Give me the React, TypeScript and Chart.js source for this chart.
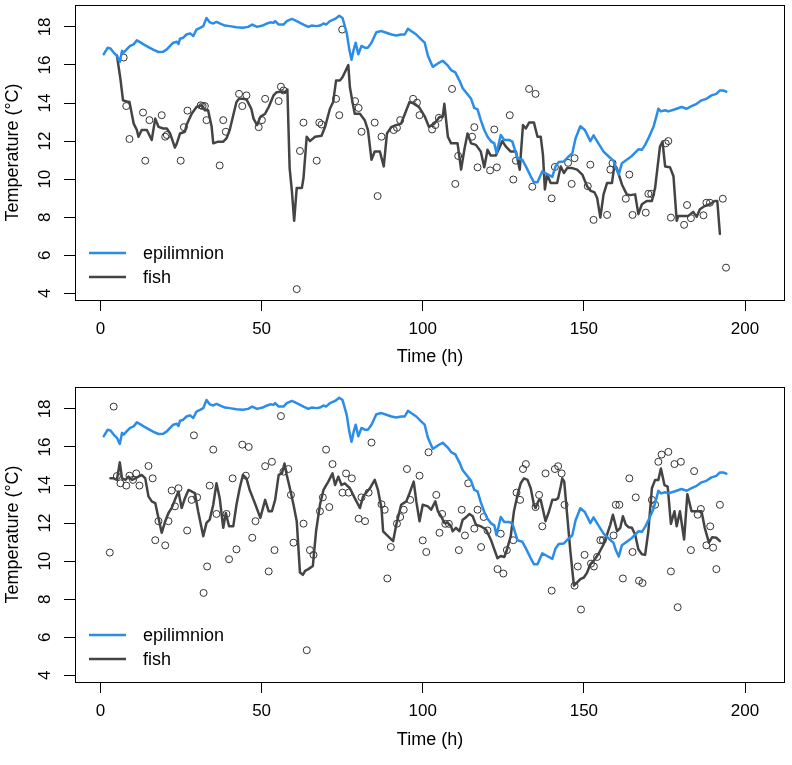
import React, { useEffect, useRef } from "react";
import { Chart, registerables } from "chart.js";

Chart.register(...registerables);

const FONT = "'Liberation Sans', Arial, Helvetica, sans-serif";
const EPI_COLOR = "#2A8DEA";
const FISH_COLOR = "#444444";
const OBS_COLOR = "#333333";

const xTicks = [0, 50, 100, 150, 200];
const yTicks = [4, 6, 8, 10, 12, 14, 16, 18];
const xTitle = "Time (h)";
const yTitle = "Temperature (°C)";
const legendLabels = ["epilimnion", "fish"];

// Epilimnion temperature (same in both panels)
const epiTime = [1.0, 2.2, 3.1, 4.1, 5.1, 6.0, 6.7, 7.2, 8.2, 9.2, 10.3, 11.3, 12.3, 13.4, 14.9, 16.5, 18.0, 19.5, 20.6, 21.6, 22.6, 23.7, 24.2, 24.7, 25.7, 26.7, 27.8, 28.8, 29.8, 30.9, 31.9, 32.9, 33.9, 35.0, 36.0, 37.0, 38.6, 40.1, 42.2, 44.2, 45.8, 47.1, 48.6, 50.6, 51.7, 52.7, 53.7, 54.2, 55.3, 56.8, 57.8, 59.4, 60.9, 63.0, 64.5, 65.5, 67.1, 68.1, 69.2, 70.0, 71.2, 72.8, 74.1, 75.1, 76.4, 77.2, 77.9, 78.6, 79.2, 80.0, 81.0, 82.0, 83.0, 84.1, 85.6, 87.2, 88.7, 90.3, 91.8, 93.3, 94.4, 95.4, 96.4, 98.0, 99.5, 100.6, 101.6, 103.1, 104.7, 106.2, 107.8, 108.8, 110.1, 111.4, 112.4, 113.4, 115.0, 116.0, 117.0, 118.0, 119.1, 120.1, 121.1, 122.2, 122.9, 124.2, 125.3, 126.8, 127.8, 129.4, 130.9, 132.0, 133.5, 134.5, 135.6, 137.1, 138.6, 140.2, 141.2, 142.2, 143.8, 145.3, 146.4, 147.4, 148.9, 150.3, 152.0, 153.0, 154.6, 156.1, 157.7, 159.2, 159.9, 160.8, 161.8, 163.3, 164.9, 166.9, 168.0, 169.0, 170.0, 171.6, 172.6, 173.1, 173.9, 175.2, 176.2, 178.3, 180.3, 181.9, 183.4, 185.0, 186.5, 188.0, 189.6, 191.1, 192.2, 193.2, 194.2];
const epiTemp = [16.56, 16.9, 16.86, 16.65, 16.48, 16.16, 16.74, 16.65, 16.83, 17.0, 17.08, 17.29, 17.2, 17.08, 16.94, 16.79, 16.68, 16.7, 16.82, 17.0, 17.17, 17.22, 17.1, 17.38, 17.43, 17.6, 17.66, 17.52, 17.86, 17.95, 18.04, 18.47, 18.24, 18.18, 18.26, 18.18, 18.07, 18.04, 17.98, 17.95, 18.0, 18.12, 18.0, 18.09, 18.18, 18.24, 18.21, 18.3, 18.12, 18.12, 18.3, 18.42, 18.3, 18.12, 18.0, 18.07, 18.04, 18.07, 18.18, 18.12, 18.3, 18.42, 18.59, 18.47, 17.69, 16.82, 16.27, 16.82, 17.17, 16.56, 17.0, 16.91, 16.91, 17.17, 17.72, 17.78, 17.69, 17.6, 17.55, 17.6, 17.6, 17.9, 17.78, 17.6, 17.34, 17.17, 16.48, 15.9, 16.08, 16.22, 15.96, 15.73, 15.61, 15.18, 14.78, 14.57, 14.22, 13.74, 13.67, 13.1, 12.58, 12.23, 12.0, 11.88, 11.36, 12.32, 12.06, 12.06, 11.97, 11.1, 11.02, 10.67, 10.15, 9.84, 9.84, 10.41, 10.27, 10.12, 10.67, 10.9, 10.93, 11.19, 11.36, 12.14, 12.78, 12.58, 12.0, 12.3, 11.85, 11.45, 11.19, 10.96, 10.58, 10.24, 10.84, 11.02, 11.22, 11.57, 11.54, 11.8, 12.14, 12.75, 13.36, 13.7, 13.56, 13.62, 13.56, 13.67, 13.79, 13.7, 13.84, 13.96, 14.14, 14.22, 14.4, 14.48, 14.66, 14.66, 14.6];

// Top panel: fish temperature line
const fishTopTime = [5.1, 6.2, 7.0, 8.2, 9.0, 10.3, 11.3, 11.8, 12.8, 14.4, 15.9, 17.0, 18.0, 19.5, 20.6, 21.6, 23.1, 23.7, 24.7, 26.2, 26.7, 28.3, 29.8, 31.4, 32.4, 33.4, 34.5, 35.0, 36.5, 38.1, 39.1, 40.1, 41.2, 42.2, 43.0, 44.2, 45.3, 46.8, 47.5, 48.6, 49.6, 51.1, 52.2, 53.7, 54.7, 56.3, 57.3, 58.0, 58.7, 59.4, 60.1, 60.9, 62.5, 63.0, 64.0, 65.0, 66.6, 68.6, 69.7, 71.2, 72.2, 73.1, 74.3, 75.1, 76.9, 77.4, 78.2, 78.9, 80.5, 82.0, 83.0, 84.1, 85.1, 86.7, 87.9, 88.9, 90.3, 91.8, 93.3, 94.9, 95.9, 97.5, 99.0, 100.6, 101.9, 103.6, 105.2, 106.2, 106.7, 107.8, 108.8, 110.8, 111.9, 112.9, 113.9, 115.0, 116.5, 118.0, 119.1, 120.1, 121.1, 122.7, 123.7, 124.7, 125.8, 127.3, 128.9, 130.1, 131.1, 132.0, 133.0, 134.5, 135.6, 136.6, 137.3, 137.9, 138.6, 139.7, 141.7, 142.8, 143.8, 144.8, 146.4, 147.9, 149.5, 151.0, 152.0, 153.3, 154.1, 155.1, 156.1, 157.2, 158.7, 159.5, 160.2, 161.8, 163.3, 164.4, 165.9, 166.9, 168.0, 169.5, 171.1, 172.1, 173.6, 174.4, 175.2, 176.7, 177.8, 178.8, 179.3, 182.4, 183.9, 185.0, 186.0, 187.5, 189.1, 190.6, 191.4, 192.2];
const fishTopTemp = [16.5, 15.26, 14.14, 14.08, 14.05, 12.92, 12.58, 12.23, 12.58, 12.58, 12.06, 13.18, 12.75, 12.66, 12.66, 12.4, 11.66, 11.88, 12.4, 12.49, 12.84, 13.44, 13.79, 13.88, 13.62, 13.62, 12.75, 11.88, 11.97, 11.97, 12.14, 12.58, 13.36, 14.05, 14.22, 14.22, 14.19, 13.7, 13.18, 12.84, 13.27, 13.44, 13.79, 14.4, 14.57, 14.6, 14.57, 14.71, 10.58, 9.37, 7.81, 9.54, 9.54, 10.06, 12.23, 12.0, 12.23, 12.28, 12.75, 13.7, 14.05, 15.18, 15.18, 15.35, 15.99, 14.83, 14.05, 13.44, 13.44, 13.1, 12.58, 11.02, 11.45, 11.45, 10.67, 12.4, 12.75, 12.84, 12.92, 13.62, 14.05, 13.96, 13.75, 13.3, 12.75, 12.92, 13.27, 13.27, 13.96, 12.23, 11.88, 11.88, 10.5, 11.54, 12.4, 11.88, 11.8, 11.45, 10.62, 11.54, 11.24, 11.24, 11.62, 12.0, 11.71, 11.45, 11.45, 10.5, 12.84, 12.66, 12.97, 12.97, 12.23, 12.23, 11.28, 9.46, 10.24, 9.8, 9.8, 10.67, 10.32, 10.58, 10.58, 10.5, 10.24, 9.63, 9.4, 9.3, 9.02, 7.98, 9.2, 9.8, 9.8, 10.76, 10.58, 9.72, 9.2, 9.16, 9.2, 8.16, 8.68, 8.85, 8.85, 9.54, 11.71, 11.97, 10.67, 10.63, 10.15, 7.81, 8.07, 8.07, 8.28, 8.02, 8.42, 8.59, 8.68, 8.85, 8.85, 7.12];

// Top panel: observed fish temperatures (open circles)
const obsTopTime = [7.2, 8.0, 9.0, 13.2, 13.9, 15.2, 19.0, 20.1, 20.6, 24.9, 25.9, 27.0, 31.1, 31.7, 32.4, 32.9, 37.0, 38.1, 38.9, 43.0, 44.0, 45.3, 49.1, 50.1, 51.1, 55.3, 56.0, 56.8, 60.9, 61.9, 63.0, 67.1, 67.9, 68.6, 73.1, 74.1, 75.0, 79.0, 80.1, 81.0, 85.1, 86.0, 87.2, 91.0, 92.0, 93.0, 97.0, 98.2, 99.0, 102.9, 103.9, 105.0, 109.1, 110.1, 111.0, 115.3, 116.0, 117.0, 120.9, 122.2, 123.0, 127.0, 128.1, 128.9, 133.0, 134.0, 135.0, 140.0, 141.0, 145.1, 146.2, 147.1, 151.2, 152.0, 153.0, 157.2, 158.2, 158.9, 163.0, 164.1, 165.1, 169.2, 170.0, 170.9, 175.4, 176.2, 177.0, 181.1, 182.0, 183.2, 187.1, 188.0, 189.1, 193.1, 194.1];
const obsTopTemp = [16.39, 13.84, 12.11, 13.5, 10.97, 13.1, 13.36, 12.23, 12.32, 10.97, 12.73, 13.6, 13.88, 13.84, 13.84, 13.1, 10.72, 13.1, 12.49, 14.48, 13.84, 14.4, 12.73, 13.1, 14.22, 14.1, 14.86, 14.66, 4.22, 11.48, 12.97, 10.97, 12.97, 12.87, 14.22, 13.36, 17.86, 14.1, 13.74, 12.49, 12.97, 9.11, 12.23, 12.58, 12.7, 13.1, 14.22, 14.02, 13.36, 12.61, 12.84, 13.22, 14.74, 9.75, 11.22, 12.23, 12.73, 10.62, 10.46, 12.61, 10.62, 13.36, 9.98, 10.97, 14.74, 9.6, 14.48, 8.99, 10.64, 10.86, 9.75, 11.1, 9.63, 10.76, 7.86, 8.12, 10.5, 10.84, 8.97, 10.24, 8.12, 8.24, 9.23, 9.23, 11.88, 12.0, 7.98, 7.6, 8.64, 7.95, 8.1, 8.76, 8.76, 8.97, 5.35];

// Bottom panel: fish temperature line
const fishBotTime = [3.1, 4.1, 5.1, 6.0, 6.7, 7.7, 8.7, 9.8, 10.8, 11.8, 12.8, 13.9, 14.9, 15.9, 17.0, 18.0, 19.0, 20.1, 21.1, 22.1, 23.1, 24.2, 25.2, 26.2, 27.3, 28.3, 29.3, 30.3, 31.9, 32.9, 33.9, 35.0, 36.0, 37.0, 38.1, 38.9, 39.9, 41.2, 42.2, 43.2, 44.2, 45.3, 46.3, 47.3, 48.1, 49.6, 51.1, 52.2, 53.2, 54.2, 55.3, 56.3, 57.1, 57.8, 58.9, 59.9, 60.9, 61.9, 62.8, 63.5, 64.5, 65.9, 66.9, 68.1, 69.2, 70.7, 72.0, 72.8, 73.8, 74.8, 75.8, 77.4, 78.9, 80.5, 81.5, 83.6, 85.1, 86.1, 87.2, 87.7, 89.2, 90.8, 91.8, 93.3, 94.9, 95.9, 97.2, 98.0, 99.0, 100.0, 101.6, 102.6, 103.9, 104.7, 105.7, 106.7, 107.8, 108.8, 109.3, 110.3, 111.4, 112.4, 113.4, 114.5, 115.5, 116.5, 118.0, 119.6, 121.1, 122.2, 123.2, 124.2, 125.3, 126.0, 127.3, 128.3, 129.4, 130.4, 131.4, 132.5, 133.5, 134.5, 135.0, 135.6, 136.1, 136.6, 137.3, 138.1, 139.2, 140.2, 141.2, 142.0, 142.8, 143.3, 143.9, 144.8, 145.8, 146.9, 147.9, 148.9, 150.0, 151.0, 152.0, 153.0, 154.6, 156.1, 157.2, 158.2, 159.0, 160.3, 161.3, 162.1, 163.0, 163.9, 164.9, 165.9, 166.9, 168.0, 169.0, 170.0, 171.1, 172.1, 173.1, 173.9, 175.0, 176.0, 177.0, 178.1, 178.8, 179.8, 181.1, 182.1, 183.4, 185.0, 186.5, 187.5, 188.8, 189.8, 191.1, 192.2];
const fishBotTemp = [14.35, 14.35, 14.27, 15.19, 14.35, 14.27, 14.44, 14.27, 14.35, 14.44, 14.53, 14.35, 13.4, 13.14, 13.05, 12.27, 11.49, 12.1, 12.53, 12.79, 13.22, 13.66, 12.79, 13.31, 13.74, 13.66, 13.57, 12.62, 11.31, 12.01, 12.18, 12.96, 14.09, 13.31, 11.75, 12.53, 11.83, 11.83, 12.96, 13.83, 14.53, 14.35, 13.74, 13.31, 12.96, 12.27, 13.22, 12.62, 12.62, 13.22, 14.53, 14.61, 15.13, 14.53, 13.74, 12.96, 12.1, 9.4, 9.28, 9.49, 9.58, 9.75, 11.57, 12.96, 13.74, 14.18, 14.61, 14.0, 14.44, 14.0, 14.09, 13.83, 13.31, 12.79, 13.4, 13.83, 14.27, 13.74, 12.79, 11.57, 11.31, 11.05, 11.92, 12.96, 13.14, 13.57, 14.18, 13.14, 12.1, 12.96, 12.88, 12.7, 13.14, 12.62, 12.36, 12.01, 12.01, 11.83, 11.57, 11.75, 11.57, 12.18, 12.3, 12.48, 12.36, 11.92, 11.83, 11.66, 11.14, 10.62, 10.15, 10.27, 10.22, 10.53, 11.31, 12.62, 13.48, 14.09, 14.35, 14.27, 13.83, 12.96, 12.79, 13.05, 13.22, 13.22, 12.7, 12.1, 12.62, 13.22, 13.22, 13.31, 13.92, 14.35, 14.18, 12.44, 10.53, 8.71, 8.88, 9.06, 9.14, 9.4, 9.84, 10.01, 10.4, 10.88, 11.4, 11.92, 12.44, 11.57, 11.75, 12.36, 11.92, 11.78, 11.75, 11.4, 10.62, 10.36, 10.33, 11.57, 13.83, 14.27, 14.27, 14.87, 14.0, 13.92, 11.96, 12.62, 11.83, 12.62, 11.14, 13.52, 12.62, 12.62, 12.62, 11.75, 10.97, 11.26, 11.23, 11.05];

// Bottom panel: observed fish temperatures (open circles)
const obsBotTime = [2.9, 4.1, 5.1, 6.2, 8.0, 9.0, 10.1, 11.1, 12.1, 14.9, 16.2, 17.0, 18.0, 20.1, 21.1, 22.1, 23.1, 24.2, 26.9, 28.3, 29.0, 30.0, 32.0, 33.1, 33.9, 35.0, 36.0, 39.1, 39.9, 41.0, 42.2, 44.0, 45.1, 46.0, 47.1, 48.1, 51.1, 52.2, 53.2, 54.0, 56.0, 56.8, 58.3, 59.1, 59.9, 63.0, 64.0, 65.0, 66.1, 68.1, 69.0, 70.0, 71.0, 72.0, 75.1, 76.2, 77.0, 78.0, 80.1, 81.0, 82.1, 83.2, 84.1, 87.2, 88.2, 89.0, 90.1, 92.0, 93.0, 94.1, 95.1, 96.1, 99.0, 100.0, 101.1, 101.8, 104.2, 105.2, 106.0, 107.0, 108.1, 111.2, 112.1, 113.1, 114.1, 116.0, 117.0, 118.1, 118.9, 120.1, 123.2, 124.2, 125.0, 126.1, 128.1, 129.1, 130.2, 131.1, 132.0, 135.0, 136.1, 137.1, 138.1, 140.0, 141.0, 142.0, 143.1, 144.0, 147.1, 148.1, 149.1, 150.2, 152.2, 153.1, 154.1, 155.1, 155.9, 159.2, 159.9, 161.0, 162.1, 164.1, 165.1, 166.1, 167.1, 168.2, 171.1, 172.1, 173.1, 174.1, 176.2, 177.0, 178.1, 179.1, 180.1, 183.2, 184.2, 185.3, 186.3, 188.0, 189.2, 190.1, 191.1, 192.2];
const obsBotTemp = [10.45, 18.12, 14.47, 14.09, 13.97, 14.49, 14.27, 14.61, 13.97, 15.0, 14.35, 11.1, 12.1, 10.83, 12.1, 13.71, 12.88, 13.83, 11.61, 13.22, 16.61, 13.35, 8.33, 9.72, 13.97, 15.86, 12.48, 12.48, 10.1, 14.35, 10.62, 16.12, 14.49, 16.0, 11.23, 12.1, 14.99, 9.46, 15.22, 10.58, 17.62, 14.7, 14.84, 13.48, 10.97, 11.97, 5.32, 10.58, 10.33, 12.62, 13.35, 15.86, 12.84, 15.1, 13.6, 14.61, 13.6, 14.35, 12.23, 13.35, 12.1, 13.6, 16.23, 12.99, 12.7, 9.09, 10.74, 11.97, 12.32, 12.7, 14.84, 13.22, 14.49, 11.09, 10.48, 15.72, 13.48, 11.49, 12.48, 11.96, 11.96, 10.58, 12.7, 11.35, 14.09, 11.71, 12.7, 10.74, 12.32, 11.61, 9.58, 11.44, 9.35, 10.58, 11.1, 13.6, 13.22, 14.84, 15.1, 12.84, 13.48, 11.83, 14.61, 8.45, 14.84, 14.99, 14.61, 12.96, 8.71, 9.72, 7.46, 10.33, 9.87, 9.72, 10.22, 11.1, 11.1, 11.35, 12.96, 12.96, 9.09, 14.35, 10.48, 13.35, 8.97, 8.85, 13.22, 12.96, 15.22, 15.6, 15.74, 9.46, 15.1, 7.58, 15.22, 10.58, 14.73, 12.44, 12.74, 10.83, 11.83, 10.71, 9.58, 12.96];

const X_MIN = -7.9;
const X_MAX = 212.4;
const Y_MIN = 3.65;
const Y_MAX = 19.15;

function pairs(xs: number[], ys: number[]) {
  return xs.map((x, i) => ({ x, y: ys[i] }));
}

const rStylePlugin = {
  id: "rStyle",
  afterDraw(chart: any) {
    const { ctx, chartArea: a, scales } = chart;
    ctx.save();
    // box around plot region
    ctx.strokeStyle = "#000";
    ctx.lineWidth = 1;
    const l = Math.round(a.left) + 0.5;
    const t = Math.round(a.top) + 0.5;
    const r = Math.round(a.right) - 0.5;
    const b = Math.round(a.bottom) + 0.5;
    ctx.strokeRect(l, t, r - l, b - t);

    // y tick labels, rotated (parallel to the axis)
    ctx.fillStyle = "#000";
    ctx.font = `17px ${FONT}`;
    ctx.textAlign = "center";
    ctx.textBaseline = "middle";
    for (const v of yTicks) {
      const py = scales.y.getPixelForValue(v);
      ctx.save();
      ctx.translate(a.left - 30, py);
      ctx.rotate(-Math.PI / 2);
      ctx.fillText(String(v), 0, 0);
      ctx.restore();
    }

    // legend (bottom-left inside the plot region, no box)
    ctx.font = `18px ${FONT}`;
    ctx.textAlign = "left";
    ctx.textBaseline = "middle";
    ctx.lineCap = "butt";
    const lineDs = chart.data.datasets.slice(0, legendLabels.length);
    lineDs.forEach((ds: any, i: number) => {
      const y = a.bottom - 47 + i * 24;
      ctx.strokeStyle = ds.borderColor;
      ctx.lineWidth = 2.5;
      ctx.beginPath();
      ctx.moveTo(a.left + 14, y);
      ctx.lineTo(a.left + 51, y);
      ctx.stroke();
      ctx.fillStyle = "#000";
      ctx.fillText(legendLabels[i], a.left + 68, y + 1);
    });
    ctx.restore();
  },
};

function makeConfig(
  height: number,
  areaTop: number,
  areaBottom: number,
  fishT: number[],
  fishV: number[],
  obsT: number[],
  obsV: number[]
): any {
  return {
    type: "scatter",
    data: {
      datasets: [
        {
          label: legendLabels[0],
          data: pairs(epiTime, epiTemp),
          showLine: true,
          borderColor: EPI_COLOR,
          borderWidth: 2.5,
          borderJoinStyle: "round",
          borderCapStyle: "round",
          pointRadius: 0,
          fill: false,
          tension: 0,
        },
        {
          label: legendLabels[1],
          data: pairs(fishT, fishV),
          showLine: true,
          borderColor: FISH_COLOR,
          borderWidth: 2.5,
          borderJoinStyle: "round",
          borderCapStyle: "round",
          pointRadius: 0,
          fill: false,
          tension: 0,
        },
        {
          label: "observed",
          data: pairs(obsT, obsV),
          showLine: false,
          pointStyle: "circle",
          pointRadius: 3.5,
          pointBackgroundColor: "rgba(0,0,0,0)",
          pointBorderColor: OBS_COLOR,
          pointBorderWidth: 1,
        },
      ],
    },
    options: {
      responsive: false,
      animation: false,
      devicePixelRatio: 1,
      events: [],
      layout: { padding: { top: areaTop, right: 7, left: 0, bottom: 0 } },
      plugins: {
        legend: { display: false },
        tooltip: { enabled: false },
        title: { display: false },
      },
      scales: {
        x: {
          type: "linear",
          position: "bottom",
          min: X_MIN,
          max: X_MAX,
          afterBuildTicks: (s: any) => {
            s.ticks = xTicks.map((v) => ({ value: v }));
          },
          afterFit: (s: any) => {
            s.height = height - areaBottom;
          },
          border: { display: false },
          grid: {
            drawOnChartArea: false,
            drawTicks: true,
            tickLength: 11,
            color: "#000",
            lineWidth: 1,
          },
          ticks: {
            font: { size: 17, family: FONT },
            color: "#000",
            padding: 8,
            maxRotation: 0,
            minRotation: 0,
            autoSkip: false,
          },
          title: {
            display: true,
            text: xTitle,
            font: { size: 18, family: FONT },
            color: "#000",
            padding: { top: 0, bottom: 14 },
          },
        },
        y: {
          type: "linear",
          position: "left",
          min: Y_MIN,
          max: Y_MAX,
          afterBuildTicks: (s: any) => {
            s.ticks = yTicks.map((v) => ({ value: v }));
          },
          afterFit: (s: any) => {
            s.width = 75;
          },
          border: { display: false },
          grid: {
            drawOnChartArea: false,
            drawTicks: true,
            tickLength: 11,
            color: "#000",
            lineWidth: 1,
          },
          ticks: { display: false },
          title: {
            display: true,
            text: yTitle,
            font: { size: 18, family: FONT },
            color: "#000",
            padding: { top: 2, bottom: 0 },
          },
        },
      },
    },
    plugins: [rStylePlugin],
  };
}

function Panel(props: {
  top: number;
  height: number;
  areaTop: number;
  areaBottom: number;
  fishT: number[];
  fishV: number[];
  obsT: number[];
  obsV: number[];
}) {
  const ref = useRef<HTMLCanvasElement | null>(null);
  useEffect(() => {
    if (!ref.current) return;
    const chart = new Chart(
      ref.current,
      makeConfig(
        props.height,
        props.areaTop,
        props.areaBottom,
        props.fishT,
        props.fishV,
        props.obsT,
        props.obsV
      )
    );
    return () => chart.destroy();
  }, []);
  return (
    <canvas
      ref={ref}
      width={792}
      height={props.height}
      style={{
        position: "absolute",
        left: 0,
        top: props.top,
        width: 792,
        height: props.height,
        display: "block",
      }}
    />
  );
}

export default function App() {
  return (
    <div
      style={{
        position: "absolute",
        left: 0,
        top: 0,
        width: 792,
        height: 765,
        overflow: "hidden",
        background: "#fff",
      }}
    >
      <Panel
        top={0}
        height={382}
        areaTop={2}
        areaBottom={300}
        fishT={fishTopTime}
        fishV={fishTopTemp}
        obsT={obsTopTime}
        obsV={obsTopTemp}
      />
      <Panel
        top={382}
        height={383}
        areaTop={2}
        areaBottom={300}
        fishT={fishBotTime}
        fishV={fishBotTemp}
        obsT={obsBotTime}
        obsV={obsBotTemp}
      />
    </div>
  );
}
